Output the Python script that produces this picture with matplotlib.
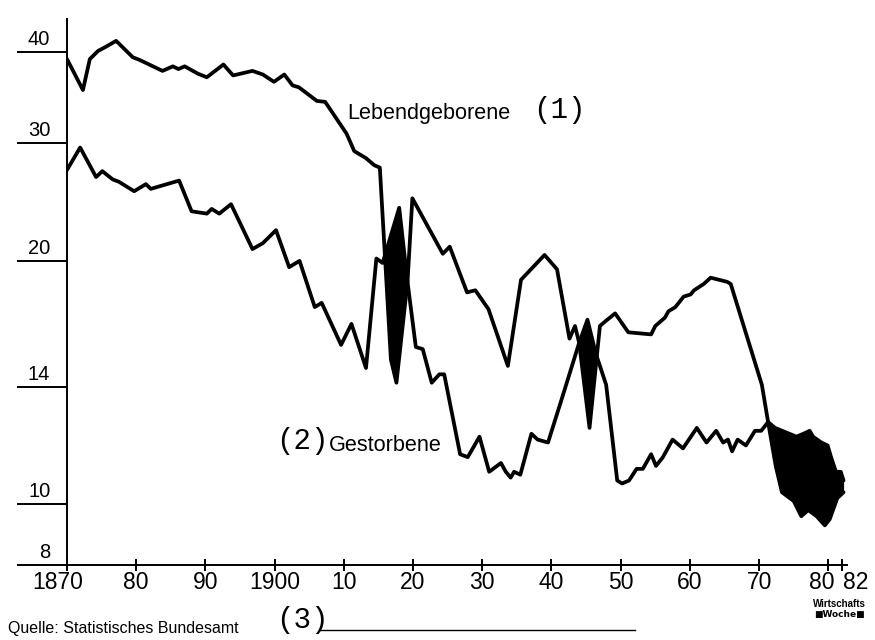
import numpy as np
import matplotlib
matplotlib.use("Agg")
import matplotlib.pyplot as plt
from matplotlib.transforms import ScaledTranslation
from matplotlib.lines import Line2D

# ---------------- data (per 1000 inhabitants) ----------------
birth_years = [1870.0, 1872.3, 1873.3, 1874.5, 1875.5, 1877.1, 1879.5, 1880.5, 1883.8, 1885.3,
               1886.1, 1887.0, 1888.9, 1890.2, 1892.6, 1894.0, 1896.8, 1898.3, 1899.9, 1901.4,
               1902.6, 1903.5, 1906.1, 1907.3, 1910.4, 1911.5, 1913.2, 1914.4, 1915.2, 1916.8,
               1917.6, 1919.2, 1919.9, 1924.3, 1925.3, 1927.8, 1929.0, 1930.9, 1933.7, 1935.6,
               1939.0, 1940.8, 1942.6, 1943.4, 1944.0, 1945.5, 1947.0, 1947.7, 1949.2, 1951.1,
               1954.4, 1955.0, 1956.4, 1956.9, 1957.9, 1959.1, 1960.1, 1960.6, 1962.0, 1963.0,
               1964.2, 1965.4, 1965.9, 1970.4, 1971.3, 1972.4, 1973.3, 1975.0, 1976.1, 1977.1,
               1978.3, 1979.5, 1980.2, 1981.3, 1982.2]
births = [39.2, 35.8, 39.2, 40.1, 40.5, 41.2, 39.4, 39.1, 37.9, 38.4,
          38.1, 38.4, 37.6, 37.2, 38.6, 37.4, 37.9, 37.5, 36.7, 37.5,
          36.3, 36.1, 34.6, 34.5, 31.0, 29.3, 28.7, 28.1, 27.9, 15.3,
          14.2, 19.0, 25.3, 20.6, 21.2, 18.5, 18.6, 17.7, 15.0, 19.1,
          20.5, 19.6, 16.3, 16.9, 16.1, 12.6, 16.9, 17.1, 17.5, 16.6,
          16.5, 16.9, 17.3, 17.6, 17.8, 18.3, 18.4, 18.6, 18.9, 19.2,
          19.1, 19.0, 18.9, 14.1, 12.8, 11.3, 10.4, 10.1, 9.6, 9.8,
          9.6, 9.3, 9.5, 10.2, 10.4]

death_years = [1870.0, 1871.9, 1874.2, 1875.1, 1876.6, 1877.5, 1879.7, 1881.4, 1882.1, 1886.2,
               1888.0, 1890.2, 1890.9, 1892.0, 1893.7, 1896.8, 1898.3, 1900.2, 1902.1, 1903.6,
               1905.8, 1906.8, 1909.6, 1911.1, 1913.2, 1914.7, 1915.6, 1918.0, 1919.2, 1920.4,
               1921.4, 1922.7, 1923.8, 1924.5, 1926.8, 1927.9, 1929.6, 1931.0, 1932.7, 1933.4,
               1934.1, 1934.6, 1935.5, 1937.1, 1938.0, 1939.5, 1941.5, 1944.0, 1945.2, 1946.4,
               1947.9, 1949.5, 1950.2, 1951.2, 1952.3, 1953.2, 1954.4, 1955.1, 1956.1, 1957.5,
               1959.0, 1961.0, 1962.4, 1963.8, 1964.8, 1965.5, 1966.1, 1966.9, 1968.1, 1969.4,
               1970.3, 1971.3, 1972.3, 1975.4, 1976.4, 1977.3, 1977.8, 1979.0, 1979.9, 1980.4,
               1981.1, 1981.8, 1982.2]
deaths = [27.7, 29.6, 27.1, 27.6, 26.9, 26.7, 25.9, 26.5, 26.1, 26.8,
          24.2, 24.0, 24.4, 24.0, 24.8, 21.0, 21.5, 22.6, 19.7, 20.0,
          17.8, 18.0, 16.0, 17.0, 14.9, 20.2, 19.9, 24.5, 19.0, 15.9,
          15.8, 14.2, 14.6, 14.6, 11.7, 11.6, 12.3, 11.1, 11.4, 11.1,
          10.9, 11.1, 11.0, 12.4, 12.2, 12.1, 13.6, 16.1, 17.2, 15.6,
          14.1, 10.8, 10.7, 10.8, 11.2, 11.2, 11.7, 11.3, 11.6, 12.2,
          11.9, 12.6, 12.1, 12.5, 12.1, 12.2, 11.8, 12.2, 12.0, 12.5,
          12.5, 12.8, 12.6, 12.3, 12.4, 12.5, 12.3, 12.1, 12.0, 11.6,
          11.1, 11.1, 10.8]

y_ticks = [8, 10, 14, 20, 30, 40]
y_ticklabels = ["8", "10", "14", "20", "30", "40"]
x_ticks = [1870, 1880, 1890, 1900, 1910, 1920, 1930, 1940, 1950, 1960, 1970, 1980, 1982]
x_ticklabels = ["1870", "80", "90", "1900", "10", "20", "30", "40", "50", "60", "70", "80", "82"]

# irregular vertical axis of the original (tick values and their relative spacing)
scale_vals = [0, 8, 10, 14, 20, 30, 40, 50, 100]
scale_steps = [-244, 0, 61, 178, 304, 422, 513, 604, 1059]


def fwd(v):
    return np.interp(v, scale_vals, scale_steps)


def inv(p):
    return np.interp(p, scale_steps, scale_vals)


# ---------------- figure ----------------
W, H = 875, 640
fig = plt.figure(figsize=(W / 100, H / 100), dpi=100)
fig.patch.set_facecolor("white")
ax = fig.add_axes([67 / W, (H - 565) / H, 780 / W, 546 / H])
ax.set_yscale("function", functions=(fwd, inv))
ax.set_xlim(1870, 1982.7)
ax.set_ylim(8, 43.6)

# black areas where deaths exceed births
t = np.linspace(1870, 1982.2, 6000)
b_i = inv(np.interp(t, birth_years, fwd(np.array(births))))
d_i = inv(np.interp(t, death_years, fwd(np.array(deaths))))
ax.fill_between(t, b_i, d_i, where=d_i > b_i, interpolate=True, color="black", lw=0.8,
                edgecolor="black", zorder=2)

ax.plot(birth_years, births, color="black", lw=2.7, solid_joinstyle="round",
        solid_capstyle="round", zorder=3)
ax.plot(death_years, deaths, color="black", lw=2.7, solid_joinstyle="round",
        solid_capstyle="round", zorder=3)

for s in ["top", "right"]:
    ax.spines[s].set_visible(False)
for s in ["left", "bottom"]:
    ax.spines[s].set_linewidth(1.4)

sans = ["Liberation Sans", "DejaVu Sans"]
mono = ["Liberation Mono", "DejaVu Sans Mono"]

ax.set_yticks(y_ticks)
ax.set_yticklabels(y_ticklabels, family=sans, fontsize=14.5)
ax.tick_params(axis="y", direction="out", length=36, width=1.4, pad=-24)
for tk in ax.yaxis.get_major_ticks():
    tk.label1.set_verticalalignment("bottom")
    tk.label1.set_transform(tk.label1.get_transform()
                            + ScaledTranslation(0, 0.03, fig.dpi_scale_trans))
ax.yaxis.set_minor_locator(matplotlib.ticker.NullLocator())

ax.set_xticks(x_ticks)
ax.set_xticklabels(x_ticklabels, family=sans, fontsize=16.5)
ax.tick_params(axis="x", direction="inout", length=9, width=1.4, pad=0)
xl = ax.get_xticklabels()
xl[0].set_transform(xl[0].get_transform() + ScaledTranslation(-0.09, 0, fig.dpi_scale_trans))
xl[-1].set_horizontalalignment("left")
xl[-1].set_transform(xl[-1].get_transform() + ScaledTranslation(0.01, 0, fig.dpi_scale_trans))
xl[-2].set_transform(xl[-2].get_transform() + ScaledTranslation(-0.07, 0, fig.dpi_scale_trans))


def fx(px):
    return px / W


def fy(py):
    return 1 - py / H


# annotations
fig.text(fx(347), fy(119), "Lebendgeborene", family=sans, fontsize=15.6, va="baseline", ha="left")
fig.text(fx(533), fy(110), "(1)", family=mono, fontsize=21, va="center", ha="left")
fig.text(fx(276), fy(441), "(2)", family=mono, fontsize=21, va="center", ha="left")
fig.text(fx(329), fy(451), "Gestorbene", family=sans, fontsize=15.6, va="baseline", ha="left")
fig.text(fx(276), fy(620), "(3)", family=mono, fontsize=21, va="center", ha="left")
fig.text(fx(8), fy(633), "Quelle: Statistisches Bundesamt", family=sans, fontsize=11.5,
         va="baseline", ha="left")
fig.add_artist(Line2D([fx(320), fx(635)], [fy(630), fy(630)], color="black", lw=1.0))
fig.text(fx(839), fy(607), "Wirtschafts", family=sans, fontsize=7, fontweight="bold",
         va="baseline", ha="center")
fig.text(fx(839), fy(617), "\u25a0Woche\u25a0", family=["DejaVu Sans"], fontsize=6.5,
         fontweight="bold", va="baseline", ha="center")

fig.savefig("out.png", dpi=100, facecolor="white")
